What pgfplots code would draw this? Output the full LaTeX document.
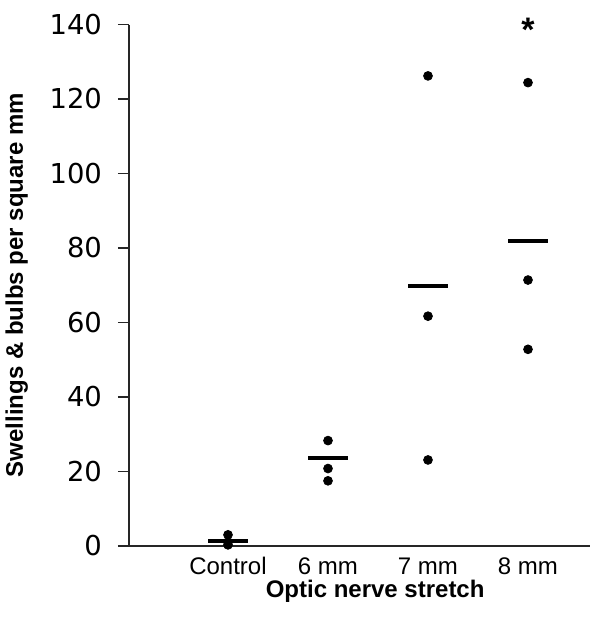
\documentclass[border=0pt]{standalone}
\usepackage{fontspec}
\setmainfont{Liberation Sans}
\newfontfamily\dejavu{DejaVu Sans}
\usepackage{pgfplots}
\pgfplotsset{compat=1.18}
\begin{document}
\begin{tikzpicture}
\useasboundingbox (-64.5pt,-36pt) rectangle (235.5pt,273pt);
\begin{axis}[
  scale only axis, width=230.5pt, height=260.75pt,
  xmin=0.01, xmax=4.62, ymin=0, ymax=140,
  axis x line=bottom, axis y line=left,
  axis line style={-, line width=0.75pt, black!85},
  xtick={1,2,3,4}, xticklabels={Control,6 mm,7 mm,8 mm},
  x tick style={draw=none},
  ytick={0,20,...,140},
  tick align=outside, major tick length=5.5pt,
  y tick style={line width=0.75pt, black!85},
  /pgf/number format/assume math mode=true,
  yticklabel style={font=\dejavu\fontsize{13.7}{15}\selectfont, xshift=-4.5pt},
  xticklabel style={font=\fontsize{12}{13}\selectfont, text height=8.6pt, text depth=0pt, yshift=3.5pt},
  xlabel={Optic nerve stretch}, ylabel={Swellings \& bulbs per square mm},
  label style={font=\bfseries\fontsize{12}{14}\selectfont},
  xlabel style={at={(axis description cs:0.534,0)}, anchor=base, yshift=-25.5pt},
  ylabel style={at={(axis description cs:-0.23,0.5)}, anchor=base},
  clip=false,
]
\addplot[only marks, mark=*, mark size=2.2pt, black] coordinates {(1,3.0)(1,1.0)(1,0.3)(2,28.3)(2,20.8)(2,17.5)(3,126.2)(3,61.7)(3,23.1)(4,124.4)(4,71.4)(4,52.8)};
\addplot[only marks, mark=-, mark size=10pt, mark options={line width=2pt}, black] coordinates {(1,1.3)(2,23.5)(3,69.8)(4,82)};
\node[font=\bfseries\fontsize{17}{18}\selectfont, yshift=-2.5pt] at (axis cs:4,140) {*};
\end{axis}
\end{tikzpicture}
\end{document}
